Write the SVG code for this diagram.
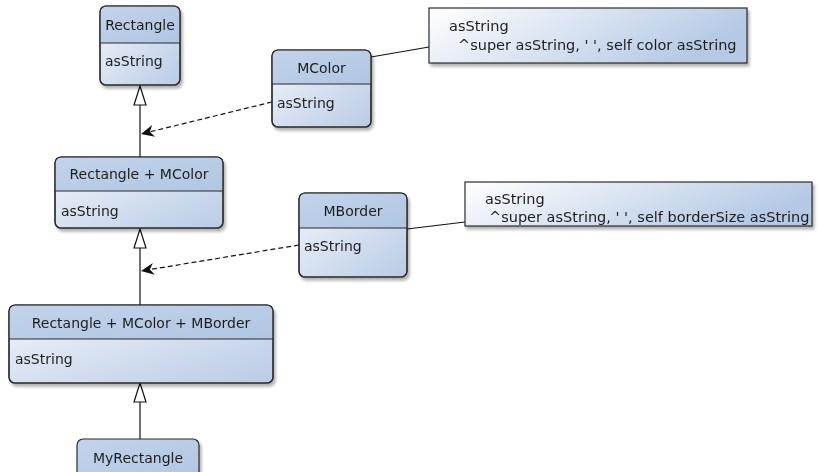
<svg xmlns="http://www.w3.org/2000/svg" width="818" height="472" viewBox="0 0 818 472">
  <defs>
    <linearGradient id="headFill" x1="0" y1="0" x2="1" y2="1">
      <stop offset="0" stop-color="#c3d3ea"/>
      <stop offset="1" stop-color="#b0c6e3"/>
    </linearGradient>
    <linearGradient id="bodyFill" x1="0" y1="0" x2="1" y2="1">
      <stop offset="0" stop-color="#f3f6fb"/>
      <stop offset="1" stop-color="#b9cbe6"/>
    </linearGradient>
    <linearGradient id="noteFill" x1="0" y1="0" x2="1" y2="0.3">
      <stop offset="0" stop-color="#ffffff"/>
      <stop offset="1" stop-color="#b5c9e5"/>
    </linearGradient>
    <filter id="shadow" x="-10%" y="-10%" width="130%" height="140%">
      <feDropShadow dx="2" dy="3" stdDeviation="1.5" flood-color="#000" flood-opacity="0.3"/>
    </filter>
    <marker id="openArrow" viewBox="0 0 14 12" refX="13" refY="6" markerWidth="14" markerHeight="12" markerUnits="userSpaceOnUse" orient="auto">
      <path d="M0,0 L13,6 L0,12 L4,6 Z" fill="#111"/>
    </marker>
    <!-- hollow generalization head, apex at origin pointing up -->
    <path id="genHead" d="M0,0 L6,19 L-6,19 Z" fill="#fff" stroke="#111" stroke-width="1.2" stroke-linejoin="miter"/>
  </defs>
  <style>
    .box { stroke: #2b2b2b; stroke-width: 1.2; }
    .head { fill: url(#headFill); }
    .body { fill: url(#bodyFill); }
    .note { fill: url(#noteFill); stroke: #2b2b2b; stroke-width: 1.2; }
    .div { stroke: #2b2b2b; stroke-width: 1.2; }
    text { font-family: "DejaVu Sans", Verdana, sans-serif; font-size: 14px; fill: #1e1e1e; }
    .title { text-anchor: middle; }
    .code { font-size: 14.5px; }
    .solid { stroke: #111; stroke-width: 1.2; fill: none; }
    .dash { stroke: #111; stroke-width: 1.2; fill: none; stroke-dasharray: 5 3; }
  </style>

  <!-- connectors -->
  <g id="connectors">
    <!-- generalization: Rectangle + MColor -> Rectangle -->
    <path class="solid" d="M140,157 L140,104"/>
    <use href="#genHead" x="140" y="86"/>
    <!-- generalization: Rectangle + MColor + MBorder -> Rectangle + MColor -->
    <path class="solid" d="M140,305 L140,248"/>
    <use href="#genHead" x="140" y="229"/>
    <!-- generalization: MyRectangle -> Rectangle + MColor + MBorder -->
    <path class="solid" d="M140,439 L140,402"/>
    <use href="#genHead" x="140" y="383"/>
    <!-- mixin dependencies -->
    <path class="dash" d="M272,102 L141,134" marker-end="url(#openArrow)"/>
    <path class="dash" d="M299,245 L141,271" marker-end="url(#openArrow)"/>
    <!-- note anchors -->
    <path class="solid" d="M371,57 L429,47"/>
    <path class="solid" d="M407,229 L465,222"/>
  </g>

  <g id="Rectangle" filter="url(#shadow)">
    <rect class="body box" x="100" y="6" width="80" height="79" rx="6"/>
    <path class="head" d="M100.6,43 L100.6,12 Q100.6,6.6 106,6.6 L174,6.6 Q179.4,6.6 179.4,12 L179.4,43 Z"/>
    <rect x="100" y="6" width="80" height="79" rx="6" fill="none" class="box"/>
    <line class="div" x1="100" y1="43" x2="180" y2="43"/>
    <text class="title" x="140" y="30">Rectangle</text>
    <text x="105" y="66">asString</text>
  </g>

  <g id="MColor" filter="url(#shadow)">
    <rect class="body box" x="272" y="50" width="99" height="77" rx="6"/>
    <path class="head" d="M272.6,84 L272.6,56 Q272.6,50.6 278,50.6 L365,50.6 Q370.4,50.6 370.4,56 L370.4,84 Z"/>
    <rect x="272" y="50" width="99" height="77" rx="6" fill="none" class="box"/>
    <line class="div" x1="272" y1="84" x2="371" y2="84"/>
    <text class="title" x="321.5" y="73">MColor</text>
    <text x="277" y="108">asString</text>
  </g>

  <g id="RectangleMColor" filter="url(#shadow)">
    <rect class="body box" x="55" y="157" width="168" height="71" rx="6"/>
    <path class="head" d="M55.6,191 L55.6,163 Q55.6,157.6 61,157.6 L217,157.6 Q222.4,157.6 222.4,163 L222.4,191 Z"/>
    <rect x="55" y="157" width="168" height="71" rx="6" fill="none" class="box"/>
    <line class="div" x1="55" y1="191" x2="223" y2="191"/>
    <text class="title" x="139" y="179">Rectangle + MColor</text>
    <text x="61" y="216">asString</text>
  </g>

  <g id="MBorder" filter="url(#shadow)">
    <rect class="body box" x="299" y="193" width="108" height="84" rx="6"/>
    <path class="head" d="M299.6,228 L299.6,199 Q299.6,193.6 305,193.6 L401,193.6 Q406.4,193.6 406.4,199 L406.4,228 Z"/>
    <rect x="299" y="193" width="108" height="84" rx="6" fill="none" class="box"/>
    <line class="div" x1="299" y1="228" x2="407" y2="228"/>
    <text class="title" x="353" y="216">MBorder</text>
    <text x="304" y="251">asString</text>
  </g>

  <g id="RectangleMColorMBorder" filter="url(#shadow)">
    <rect class="body box" x="9" y="305" width="264" height="78" rx="6"/>
    <path class="head" d="M9.6,339 L9.6,311 Q9.6,305.6 15,305.6 L267,305.6 Q272.4,305.6 272.4,311 L272.4,339 Z"/>
    <rect x="9" y="305" width="264" height="78" rx="6" fill="none" class="box"/>
    <line class="div" x1="9" y1="339" x2="273" y2="339"/>
    <text class="title" x="141" y="328">Rectangle + MColor + MBorder</text>
    <text x="15" y="364">asString</text>
  </g>

  <g id="MyRectangle" filter="url(#shadow)">
    <rect class="head box" x="77" y="439" width="122" height="45" rx="6"/>
    <text class="title" x="138" y="463">MyRectangle</text>
  </g>

  <g id="noteMColor" filter="url(#shadow)">
    <rect class="note" x="429" y="8" width="318" height="55"/>
    <text class="code" x="449" y="31">asString</text>
    <text class="code" x="458" y="50">^super asString, ' ', self color asString</text>
  </g>

  <g id="noteMBorder" filter="url(#shadow)">
    <rect class="note" x="465" y="182" width="347" height="44"/>
    <text class="code" x="485" y="204">asString</text>
    <text class="code" x="489" y="222">^super asString, ' ', self borderSize asString</text>
  </g>
</svg>
